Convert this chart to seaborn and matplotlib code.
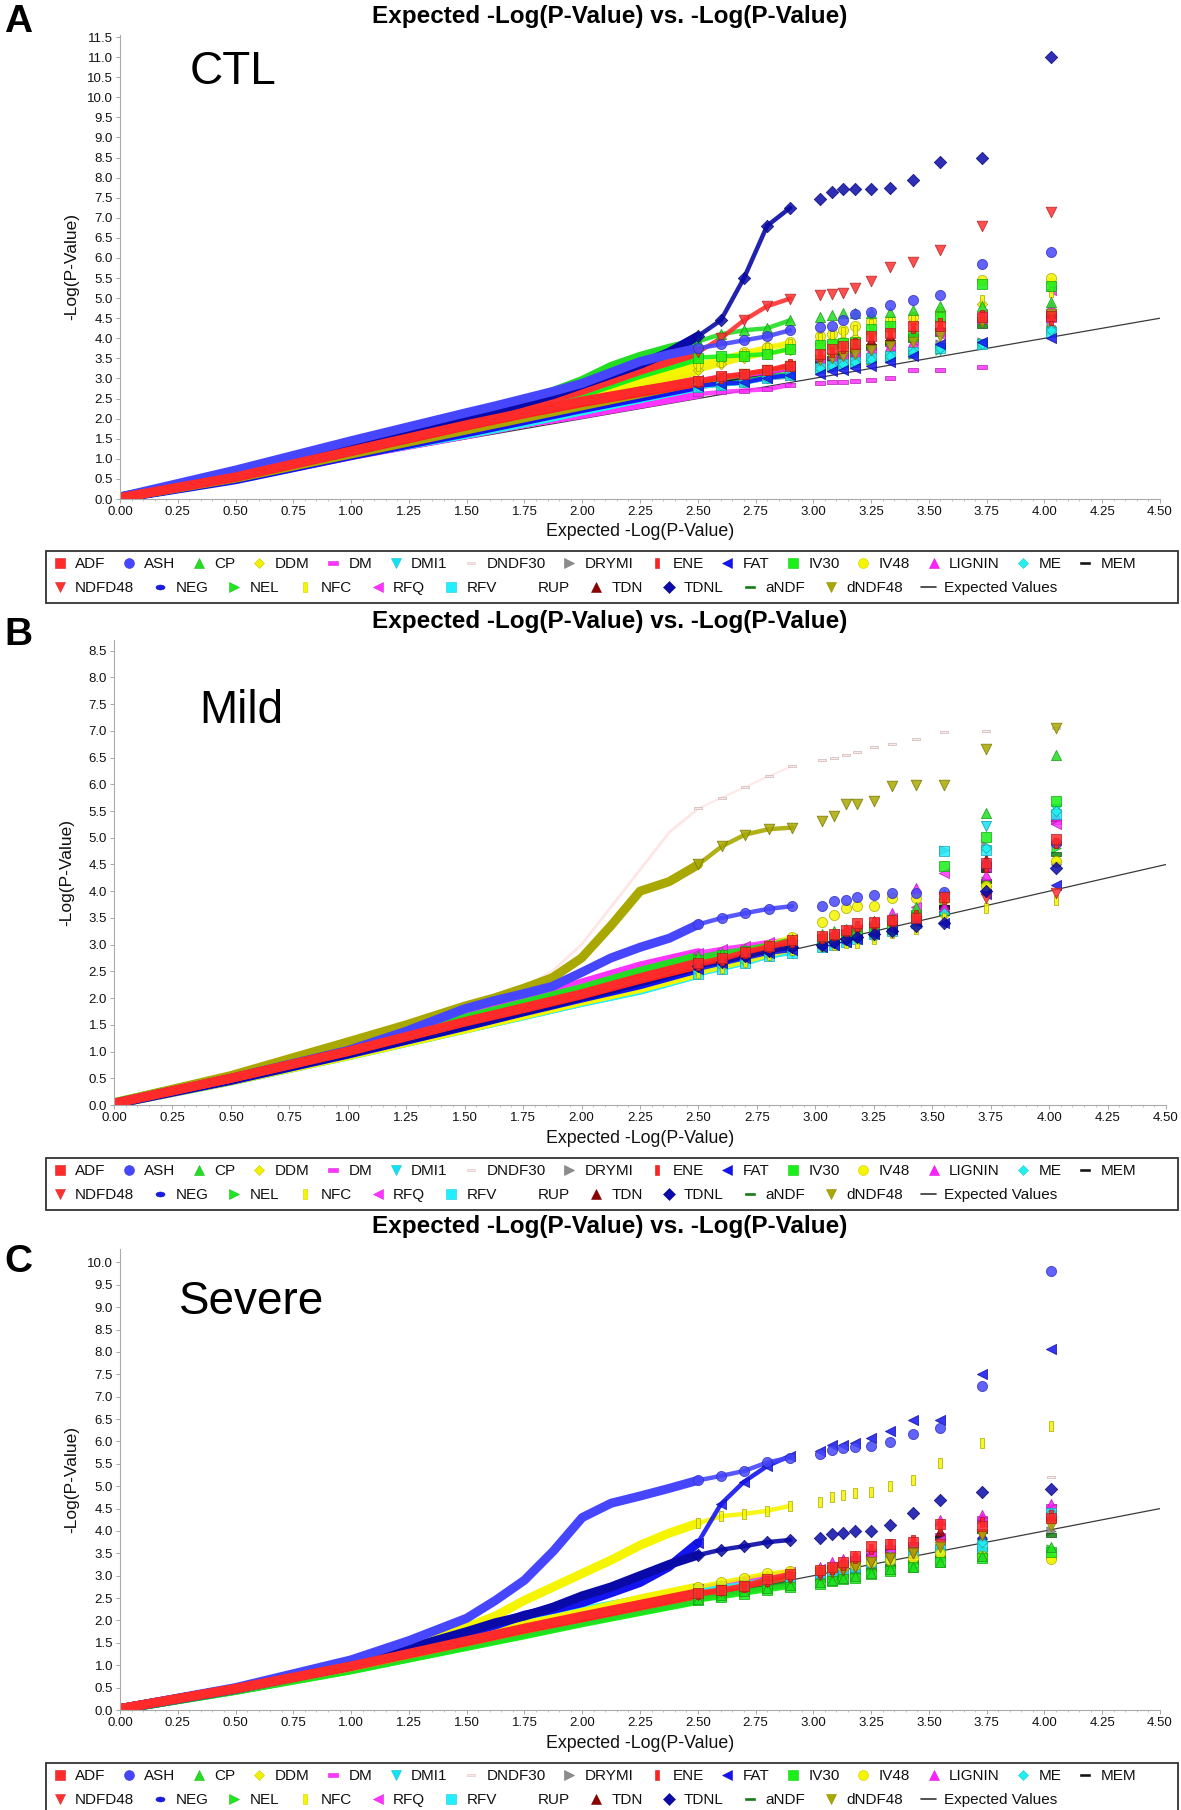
import matplotlib
matplotlib.use("Agg")
import matplotlib.pyplot as plt
import seaborn as sns
from matplotlib.path import Path
from matplotlib.transforms import Affine2D
from matplotlib.lines import Line2D
from matplotlib.patches import Rectangle
from matplotlib.ticker import MultipleLocator, FormatStrFormatter

sns.set_theme(style="white")
plt.rcParams['font.family'] = ['Liberation Sans', 'DejaVu Sans']

# ---------------- data ----------------
TRAITS = ["ADF", "ASH", "CP", "DDM", "DM", "DMI1", "DNDF30", "DRYMI", "ENE", "FAT",
          "IV30", "IV48", "LIGNIN", "ME", "MEM", "NDFD48", "NEG", "NEL", "NFC", "RFQ",
          "RFV", "RUP", "TDN", "TDNL", "aNDF", "dNDF48"]
PANELS = ["CTL", "Mild", "Severe"]
PANEL_LETTERS = ["A", "B", "C"]
TITLE = "Expected -Log(P-Value) vs. -Log(P-Value)"
XLABEL = "Expected -Log(P-Value)"
YLABEL = "-Log(P-Value)"
EXPECTED_X = [0.0, 4.5]
EXPECTED_Y = [0.0, 4.5]
X_TICKS = [0.0, 0.25, 0.5, 0.75, 1.0, 1.25, 1.5, 1.75, 2.0, 2.25, 2.5, 2.75, 3.0, 3.25, 3.5, 3.75, 4.0, 4.25, 4.5]
Y_TOP_TICK = {"CTL": 11.5, "Mild": 8.5, "Severe": 10.0}

# expected -log10(p) positions shared by every trait
XG = [0.0, 0.5, 1.0, 1.5, 1.75, 2.0, 2.25, 2.5,
      2.6, 2.7, 2.8, 2.9,
      3.03, 3.08, 3.13, 3.18,
      3.25, 3.33, 3.43, 3.55,
      3.73, 4.03]
# finer expected positions for the strongly curved bulk of a few traits
FINE_X = [0.0, 0.5, 1.0, 1.25, 1.5, 1.625, 1.75, 1.875, 2.0, 2.125, 2.25, 2.375, 2.5]

# ---- CTL ----
CTL_ADF = [0.03, 0.55, 1.20, 1.85, 2.15, 2.44, 2.69, 2.94, 3.05, 3.12, 3.21, 3.30, 3.61, 3.74, 3.80, 3.85, 4.05, 4.14, 4.31, 4.30, 4.53, 4.55]
CTL_ENE = [0.03, 0.54, 1.18, 1.82, 2.12, 2.40, 2.65, 2.90, 3.02, 3.10, 3.20, 3.35, 3.55, 3.65, 3.75, 3.88, 4.00, 4.10, 4.25, 4.38, 4.58, 4.45]
CTL_ASH = [0.05, 0.72, 1.45, 2.15, 2.50, 2.88, 3.42, 3.75, 3.85, 3.95, 4.05, 4.20, 4.27, 4.31, 4.45, 4.60, 4.65, 4.82, 4.95, 5.08, 5.85, 6.15]
CTL_CP = [0.05, 0.64, 1.35, 2.05, 2.45, 2.95, 3.55, 3.92, 4.10, 4.20, 4.25, 4.45, 4.53, 4.58, 4.62, 4.62, 4.62, 4.65, 4.70, 4.80, 4.80, 4.90]
CTL_DDM = [0.03, 0.50, 1.10, 1.70, 2.00, 2.35, 2.80, 3.20, 3.35, 3.50, 3.62, 3.72, 3.85, 3.90, 3.95, 4.00, 4.10, 4.20, 4.40, 4.45, 4.85, 5.40]
CTL_DM = [0.03, 0.50, 1.08, 1.60, 1.88, 2.11, 2.36, 2.61, 2.66, 2.70, 2.73, 2.84, 2.88, 2.90, 2.91, 2.93, 2.97, 3.00, 3.20, 3.20, 3.28, 4.45]
CTL_DMI1 = [0.03, 0.50, 1.10, 1.62, 1.90, 2.20, 2.50, 2.80, 2.86, 2.92, 3.04, 3.10, 3.28, 3.32, 3.36, 3.40, 3.50, 3.54, 3.65, 3.70, 3.85, 4.15]
CTL_DNDF30 = [0.03, 0.50, 1.12, 1.70, 1.98, 2.28, 2.55, 2.85, 2.90, 2.95, 3.00, 3.10, 3.20, 3.30, 3.35, 3.38, 3.40, 3.45, 3.60, 3.80, 3.95, 4.30]
CTL_DRYMI = [0.03, 0.50, 1.10, 1.62, 1.90, 2.20, 2.48, 2.78, 2.85, 2.90, 3.00, 3.05, 3.20, 3.25, 3.30, 3.35, 3.45, 3.50, 3.60, 3.85, 3.90, 4.30]
CTL_FAT = [0.02, 0.48, 1.08, 1.65, 1.95, 2.25, 2.53, 2.82, 2.87, 2.90, 3.02, 3.08, 3.12, 3.18, 3.22, 3.25, 3.30, 3.40, 3.55, 3.85, 3.90, 4.00]
CTL_IV30 = [0.04, 0.60, 1.27, 1.95, 2.30, 2.62, 3.10, 3.52, 3.55, 3.57, 3.61, 3.74, 3.83, 3.85, 3.88, 3.92, 4.22, 4.30, 4.05, 4.53, 5.35, 5.30]
CTL_IV48 = [0.03, 0.55, 1.15, 1.80, 2.15, 2.50, 2.98, 3.36, 3.50, 3.65, 3.78, 3.90, 4.05, 4.10, 4.20, 4.30, 4.43, 4.46, 4.53, 4.65, 5.45, 5.50]
CTL_LIGNIN = [0.03, 0.52, 1.12, 1.70, 2.00, 2.32, 2.62, 2.92, 3.00, 3.08, 3.15, 3.25, 3.40, 3.45, 3.50, 3.60, 3.70, 3.80, 3.90, 4.20, 4.50, 4.80]
CTL_ME = [0.03, 0.50, 1.10, 1.62, 1.90, 2.20, 2.50, 2.80, 2.85, 2.90, 3.02, 3.08, 3.25, 3.30, 3.35, 3.40, 3.48, 3.55, 3.65, 3.75, 3.85, 4.20]
CTL_MEM = [0.03, 0.52, 1.15, 1.75, 2.05, 2.35, 2.62, 2.88, 2.95, 3.05, 3.15, 3.25, 3.40, 3.50, 3.60, 3.70, 3.80, 3.90, 4.05, 4.20, 4.45, 4.55]
CTL_NDFD48 = [0.04, 0.58, 1.25, 1.95, 2.30, 2.70, 3.20, 3.65, 4.00, 4.45, 4.80, 4.99, 5.08, 5.10, 5.13, 5.25, 5.43, 5.78, 5.90, 6.20, 6.80, 7.15]
CTL_NEG = [0.03, 0.50, 1.10, 1.65, 1.95, 2.25, 2.55, 2.85, 2.90, 2.95, 3.05, 3.10, 3.25, 3.30, 3.35, 3.40, 3.45, 3.50, 3.65, 3.80, 3.90, 4.20]
CTL_NEL = [0.03, 0.52, 1.15, 1.72, 2.02, 2.30, 2.58, 2.85, 2.90, 2.95, 3.05, 3.12, 3.25, 3.30, 3.35, 3.40, 3.45, 3.50, 3.60, 3.70, 3.85, 4.20]
CTL_NFC = [0.03, 0.55, 1.15, 1.80, 2.12, 2.48, 2.95, 3.30, 3.42, 3.60, 3.75, 3.85, 4.00, 4.05, 4.15, 4.20, 4.35, 4.40, 4.50, 4.60, 4.96, 5.15]
CTL_RFQ = [0.03, 0.52, 1.12, 1.72, 2.02, 2.35, 2.66, 2.95, 3.05, 3.10, 3.20, 3.30, 3.45, 3.50, 3.55, 3.60, 3.70, 3.80, 3.95, 4.10, 4.60, 5.20]
CTL_RFV = [0.03, 0.50, 1.10, 1.62, 1.90, 2.20, 2.50, 2.80, 2.85, 2.90, 3.00, 3.08, 3.25, 3.30, 3.35, 3.42, 3.50, 3.55, 3.65, 3.75, 3.85, 4.15]
CTL_TDN = [0.03, 0.55, 1.18, 1.82, 2.12, 2.42, 2.68, 2.92, 3.02, 3.10, 3.20, 3.30, 3.50, 3.60, 3.70, 3.80, 3.95, 4.05, 4.20, 4.30, 4.55, 4.65]
CTL_TDNL = [0.05, 0.62, 1.30, 2.00, 2.40, 2.85, 3.35, 4.05, 4.45, 5.50, 6.80, 7.25, 7.48, 7.63, 7.72, 7.72, 7.72, 7.75, 7.95, 8.40, 8.50, 11.00]
CTL_aNDF = [0.03, 0.55, 1.15, 1.75, 2.05, 2.35, 2.62, 2.90, 2.98, 3.08, 3.18, 3.30, 3.45, 3.50, 3.55, 3.60, 3.75, 3.85, 3.95, 4.10, 4.30, 4.65]
CTL_dNDF48 = [0.03, 0.52, 1.12, 1.72, 2.02, 2.32, 2.62, 2.92, 3.00, 3.10, 3.20, 3.30, 3.45, 3.50, 3.55, 3.60, 3.70, 3.80, 3.90, 4.05, 4.40, 4.60]
CTL_TDNL_FINE = [0.05, 0.62, 1.30, 1.65, 2.00, 2.20, 2.40, 2.60, 2.85, 3.10, 3.35, 3.65, 4.05]
CTL_ASH_FINE = [0.05, 0.72, 1.45, 1.80, 2.15, 2.32, 2.50, 2.68, 2.88, 3.15, 3.42, 3.60, 3.75]
CTL_CP_FINE = [0.05, 0.64, 1.35, 1.70, 2.05, 2.25, 2.45, 2.68, 2.95, 3.30, 3.55, 3.75, 3.92]

# ---- Mild ----
Mild_ADF = [0.03, 0.50, 1.00, 1.56, 1.82, 2.08, 2.38, 2.66, 2.75, 2.87, 2.97, 3.09, 3.16, 3.20, 3.28, 3.41, 3.42, 3.47, 3.50, 3.90, 4.53, 4.97]
Mild_ENE = [0.03, 0.50, 1.00, 1.55, 1.80, 2.06, 2.35, 2.62, 2.72, 2.85, 2.95, 3.05, 3.12, 3.18, 3.25, 3.35, 3.40, 3.45, 3.55, 3.85, 4.45, 4.90]
Mild_ASH = [0.03, 0.50, 1.02, 1.80, 2.08, 2.48, 2.95, 3.38, 3.50, 3.59, 3.67, 3.72, 3.72, 3.81, 3.84, 3.90, 3.92, 3.96, 3.97, 3.99, 4.50, 4.90]
Mild_CP = [0.04, 0.53, 1.07, 1.62, 1.90, 2.18, 2.50, 2.78, 2.85, 2.92, 3.00, 3.10, 3.20, 3.25, 3.30, 3.35, 3.45, 3.50, 3.70, 3.95, 5.47, 6.55]
Mild_DDM = [0.02, 0.46, 0.94, 1.45, 1.72, 1.97, 2.22, 2.50, 2.60, 2.72, 2.85, 2.95, 3.05, 3.10, 3.15, 3.20, 3.30, 3.35, 3.50, 3.55, 4.10, 4.56]
Mild_DM = [0.02, 0.47, 0.97, 1.52, 1.82, 2.14, 2.45, 2.72, 2.78, 2.85, 2.92, 3.00, 3.05, 3.10, 3.15, 3.20, 3.30, 3.35, 3.50, 3.70, 4.20, 5.30]
Mild_DMI1 = [0.02, 0.45, 0.92, 1.42, 1.67, 1.92, 2.15, 2.45, 2.55, 2.65, 2.78, 2.85, 2.95, 3.00, 3.05, 3.10, 3.20, 3.30, 3.45, 3.60, 5.22, 5.53]
Mild_DNDF30 = [0.04, 0.55, 1.18, 1.85, 2.20, 2.70, 4.30, 5.55, 5.75, 5.95, 6.15, 6.34, 6.45, 6.50, 6.55, 6.60, 6.70, 6.75, 6.85, 6.97, 7.00, 7.05]
Mild_DRYMI = [0.02, 0.47, 0.97, 1.50, 1.77, 2.04, 2.32, 2.60, 2.70, 2.80, 2.90, 3.00, 3.10, 3.15, 3.20, 3.25, 3.35, 3.40, 3.50, 4.78, 4.85, 5.35]
Mild_FAT = [0.02, 0.46, 0.95, 1.47, 1.74, 2.00, 2.25, 2.55, 2.65, 2.75, 2.85, 2.90, 2.95, 3.00, 3.05, 3.10, 3.20, 3.30, 3.45, 3.40, 3.94, 4.11]
Mild_IV30 = [0.04, 0.52, 1.05, 1.60, 1.87, 2.14, 2.45, 2.72, 2.80, 2.88, 2.95, 3.00, 3.10, 3.12, 3.15, 3.20, 3.25, 3.30, 3.55, 4.47, 5.02, 5.69]
Mild_IV48 = [0.02, 0.46, 0.95, 1.47, 1.74, 2.00, 2.30, 2.62, 2.75, 2.88, 3.00, 3.15, 3.42, 3.55, 3.69, 3.72, 3.72, 3.88, 3.88, 3.85, 4.09, 4.56]
Mild_LIGNIN = [0.03, 0.51, 1.03, 1.62, 1.92, 2.24, 2.55, 2.80, 2.85, 2.92, 3.00, 3.05, 3.10, 3.15, 3.20, 3.30, 3.45, 3.60, 4.06, 3.72, 4.30, 5.40]
Mild_ME = [0.02, 0.46, 0.94, 1.44, 1.70, 1.95, 2.20, 2.50, 2.60, 2.70, 2.80, 2.88, 2.95, 3.00, 3.05, 3.10, 3.15, 3.25, 3.40, 3.60, 4.80, 5.50]
Mild_MEM = [0.03, 0.49, 0.99, 1.53, 1.80, 2.06, 2.35, 2.62, 2.70, 2.80, 2.90, 3.00, 3.08, 3.12, 3.18, 3.25, 3.30, 3.38, 3.45, 3.70, 4.40, 4.90]
Mild_NDFD48 = [0.03, 0.49, 0.99, 1.53, 1.80, 2.06, 2.35, 2.62, 2.70, 2.80, 2.90, 3.00, 3.08, 3.12, 3.18, 3.25, 3.30, 3.35, 3.45, 3.90, 3.88, 3.97]
Mild_NEG = [0.02, 0.46, 0.95, 1.47, 1.74, 2.00, 2.28, 2.58, 2.68, 2.78, 2.88, 2.95, 3.02, 3.08, 3.12, 3.18, 3.25, 3.30, 3.45, 3.60, 4.00, 4.50]
Mild_NEL = [0.03, 0.52, 1.05, 1.60, 1.87, 2.14, 2.42, 2.70, 2.78, 2.86, 2.95, 3.02, 3.08, 3.12, 3.18, 3.22, 3.28, 3.35, 3.50, 3.80, 4.20, 4.80]
Mild_NFC = [0.02, 0.45, 0.92, 1.42, 1.68, 1.94, 2.18, 2.47, 2.57, 2.68, 2.80, 2.90, 2.98, 3.00, 3.03, 3.03, 3.10, 3.22, 3.30, 3.50, 3.69, 3.84]
Mild_RFQ = [0.03, 0.52, 1.06, 1.65, 1.95, 2.28, 2.60, 2.85, 2.92, 2.98, 3.05, 3.10, 3.15, 3.20, 3.25, 3.30, 3.40, 3.50, 3.70, 4.34, 4.45, 5.25]
Mild_RFV = [0.02, 0.45, 0.92, 1.42, 1.67, 1.92, 2.15, 2.45, 2.55, 2.65, 2.78, 2.85, 2.95, 3.00, 3.05, 3.10, 3.20, 3.25, 3.40, 4.75, 4.78, 5.45]
Mild_TDN = [0.03, 0.50, 1.00, 1.55, 1.82, 2.08, 2.37, 2.64, 2.72, 2.82, 2.92, 3.02, 3.10, 3.15, 3.20, 3.28, 3.35, 3.40, 3.50, 3.70, 4.60, 5.40]
Mild_TDNL = [0.02, 0.47, 0.96, 1.48, 1.75, 2.02, 2.30, 2.60, 2.68, 2.78, 2.88, 2.95, 3.00, 3.05, 3.10, 3.15, 3.20, 3.25, 3.35, 3.41, 4.00, 4.44]
Mild_aNDF = [0.03, 0.49, 0.99, 1.53, 1.80, 2.07, 2.35, 2.62, 2.70, 2.80, 2.90, 2.98, 3.05, 3.10, 3.15, 3.20, 3.28, 3.32, 3.40, 3.60, 4.20, 4.70]
Mild_dNDF48 = [0.04, 0.55, 1.18, 1.85, 2.18, 2.75, 4.00, 4.50, 4.84, 5.06, 5.16, 5.19, 5.31, 5.41, 5.63, 5.63, 5.69, 5.97, 5.99, 5.99, 6.66, 7.06]
Mild_dNDF48_FINE = [0.04, 0.55, 1.18, 1.50, 1.85, 2.00, 2.18, 2.38, 2.75, 3.35, 4.00, 4.18, 4.50]
Mild_ASH_FINE = [0.03, 0.50, 1.02, 1.38, 1.80, 1.95, 2.08, 2.22, 2.48, 2.75, 2.95, 3.12, 3.38]
Mild_DNDF30_FINE = [0.04, 0.55, 1.18, 1.50, 1.85, 2.00, 2.20, 2.50, 3.00, 3.70, 4.40, 5.10, 5.55]

# ---- Severe ----
Severe_ADF = [0.03, 0.48, 0.98, 1.55, 1.83, 2.10, 2.36, 2.62, 2.69, 2.78, 2.93, 3.04, 3.12, 3.20, 3.30, 3.45, 3.67, 3.71, 3.75, 4.15, 4.12, 4.28]
Severe_ENE = [0.03, 0.48, 0.98, 1.53, 1.81, 2.07, 2.33, 2.60, 2.67, 2.75, 2.88, 3.00, 3.08, 3.15, 3.25, 3.40, 3.60, 3.70, 3.80, 4.10, 4.20, 4.35]
Severe_ASH = [0.03, 0.50, 1.12, 2.05, 2.90, 4.30, 4.78, 5.13, 5.23, 5.34, 5.53, 5.64, 5.73, 5.80, 5.85, 5.88, 5.90, 5.99, 6.17, 6.29, 7.25, 9.81]
Severe_CP = [0.03, 0.45, 0.92, 1.45, 1.72, 1.98, 2.24, 2.48, 2.56, 2.65, 2.72, 2.80, 2.85, 2.90, 2.95, 3.00, 3.05, 3.15, 3.20, 3.30, 3.45, 3.65]
Severe_DDM = [0.03, 0.48, 0.98, 1.55, 1.85, 2.12, 2.40, 2.68, 2.75, 2.85, 2.95, 3.05, 3.10, 3.15, 3.20, 3.25, 3.30, 3.35, 3.45, 3.55, 3.50, 3.40]
Severe_DM = [0.03, 0.48, 0.98, 1.55, 1.88, 2.15, 2.42, 2.72, 2.80, 2.90, 3.00, 3.08, 3.15, 3.20, 3.28, 3.40, 3.55, 3.65, 3.70, 3.90, 4.30, 4.55]
Severe_DMI1 = [0.03, 0.48, 1.00, 1.62, 1.92, 2.20, 2.46, 2.70, 2.78, 2.86, 2.95, 3.02, 3.08, 3.12, 3.18, 3.25, 3.35, 3.45, 3.60, 3.50, 3.70, 4.41]
Severe_DNDF30 = [0.03, 0.50, 1.00, 1.60, 1.95, 2.25, 2.50, 2.70, 2.78, 2.85, 2.95, 3.02, 3.10, 3.15, 3.20, 3.28, 3.35, 3.45, 3.55, 3.70, 4.00, 5.20]
Severe_DRYMI = [0.03, 0.47, 0.96, 1.55, 1.85, 2.12, 2.40, 2.65, 2.72, 2.80, 2.90, 2.98, 3.05, 3.10, 3.15, 3.20, 3.30, 3.40, 3.50, 3.60, 3.75, 4.00]
Severe_FAT = [0.02, 0.46, 0.98, 1.72, 2.12, 2.40, 2.85, 3.73, 4.60, 5.10, 5.45, 5.68, 5.79, 5.92, 5.93, 5.97, 6.07, 6.23, 6.48, 6.48, 7.51, 8.07]
Severe_IV30 = [0.02, 0.44, 0.90, 1.42, 1.68, 1.95, 2.20, 2.45, 2.52, 2.60, 2.68, 2.75, 2.82, 2.88, 2.92, 2.95, 3.04, 3.10, 3.20, 3.30, 3.40, 3.52]
Severe_IV48 = [0.03, 0.48, 0.98, 1.58, 1.90, 2.18, 2.48, 2.75, 2.85, 2.95, 3.05, 3.10, 3.12, 3.15, 3.20, 3.25, 3.30, 3.35, 3.40, 3.50, 3.45, 3.38]
Severe_LIGNIN = [0.03, 0.48, 0.98, 1.57, 1.88, 2.15, 2.42, 2.72, 2.80, 2.90, 3.00, 3.10, 3.20, 3.30, 3.38, 3.45, 3.55, 3.65, 3.75, 4.25, 4.35, 4.60]
Severe_ME = [0.03, 0.48, 1.00, 1.64, 1.96, 2.22, 2.46, 2.68, 2.75, 2.82, 2.92, 3.00, 3.06, 3.10, 3.15, 3.20, 3.30, 3.45, 3.60, 3.55, 3.75, 4.40]
Severe_MEM = [0.03, 0.47, 0.97, 1.54, 1.82, 2.09, 2.35, 2.60, 2.68, 2.78, 2.90, 3.00, 3.08, 3.12, 3.20, 3.30, 3.45, 3.55, 3.65, 3.85, 4.00, 4.30]
Severe_NDFD48 = [0.03, 0.47, 0.97, 1.52, 1.80, 2.06, 2.32, 2.58, 2.65, 2.75, 2.85, 2.95, 3.02, 3.08, 3.12, 3.20, 3.30, 3.40, 3.50, 3.70, 3.90, 4.20]
Severe_NEG = [0.02, 0.45, 0.95, 1.58, 1.88, 2.14, 2.40, 2.62, 2.70, 2.78, 2.88, 2.95, 3.00, 3.05, 3.10, 3.15, 3.25, 3.35, 3.45, 3.60, 3.85, 4.30]
Severe_NEL = [0.02, 0.44, 0.90, 1.43, 1.70, 1.97, 2.22, 2.46, 2.53, 2.62, 2.70, 2.78, 2.85, 2.90, 2.95, 3.00, 3.05, 3.12, 3.20, 3.35, 3.50, 3.60]
Severe_NFC = [0.03, 0.48, 1.00, 1.85, 2.45, 3.05, 3.68, 4.17, 4.33, 4.38, 4.45, 4.56, 4.64, 4.76, 4.81, 4.84, 4.88, 5.00, 5.13, 5.51, 5.96, 6.34]
Severe_RFQ = [0.03, 0.48, 0.98, 1.56, 1.86, 2.14, 2.42, 2.70, 2.78, 2.88, 2.98, 3.08, 3.15, 3.20, 3.25, 3.35, 3.45, 3.55, 3.65, 3.80, 4.20, 4.50]
Severe_RFV = [0.03, 0.48, 1.00, 1.63, 1.95, 2.21, 2.46, 2.66, 2.73, 2.80, 2.90, 2.98, 3.05, 3.10, 3.15, 3.20, 3.30, 3.40, 3.55, 3.60, 3.65, 4.40]
Severe_TDN = [0.03, 0.48, 0.97, 1.53, 1.82, 2.10, 2.35, 2.62, 2.70, 2.80, 2.92, 3.02, 3.10, 3.15, 3.22, 3.35, 3.50, 3.60, 3.70, 4.00, 4.30, 4.45]
Severe_TDNL = [0.03, 0.48, 0.98, 1.75, 2.10, 2.55, 3.00, 3.46, 3.58, 3.66, 3.75, 3.80, 3.84, 3.93, 3.95, 4.00, 4.00, 4.13, 4.41, 4.70, 4.88, 4.93]
Severe_aNDF = [0.02, 0.45, 0.92, 1.46, 1.74, 2.00, 2.25, 2.50, 2.58, 2.68, 2.78, 2.85, 2.92, 2.98, 3.02, 3.08, 3.15, 3.22, 3.30, 3.45, 3.60, 3.90]
Severe_dNDF48 = [0.03, 0.47, 0.96, 1.52, 1.80, 2.08, 2.33, 2.60, 2.68, 2.78, 2.88, 2.98, 3.05, 3.10, 3.15, 3.20, 3.30, 3.40, 3.50, 3.65, 3.90, 4.10]
Severe_ASH_FINE = [0.03, 0.50, 1.12, 1.55, 2.05, 2.45, 2.90, 3.55, 4.30, 4.62, 4.78, 4.95, 5.13]
Severe_NFC_FINE = [0.03, 0.48, 1.00, 1.45, 1.85, 2.10, 2.45, 2.75, 3.05, 3.35, 3.68, 3.95, 4.17]
Severe_TDNL_FINE = [0.03, 0.48, 0.98, 1.38, 1.75, 1.95, 2.10, 2.30, 2.55, 2.75, 3.00, 3.25, 3.46]
Severe_FAT_FINE = [0.02, 0.46, 0.98, 1.38, 1.72, 1.90, 2.12, 2.25, 2.40, 2.62, 2.85, 3.20, 3.73]

# ---------------- styling ----------------
W, H = 1181, 1810
_codes = [Path.MOVETO, Path.LINETO, Path.LINETO, Path.LINETO, Path.CLOSEPOLY]
WIDE = Path([(-1, -0.33), (1, -0.33), (1, 0.33), (-1, 0.33), (-1, -0.33)], _codes)
TALL = Path([(-0.38, -1), (0.38, -1), (0.38, 1), (-0.38, 1), (-0.38, -1)], _codes)
ELL = Path.unit_circle().transformed(Affine2D().scale(1.0, 0.55))

STYLE = {
    "ADF": ("#ff2a2a", "s", 1.0), "ASH": ("#4646ff", "o", 1.1), "CP": ("#22dd22", "^", 1.1),
    "DDM": ("#f0f000", "D", 0.8), "DM": ("#ff33ff", WIDE, 1.1), "DMI1": ("#12e2f2", "v", 1.1),
    "DNDF30": ("#ffe6e6", WIDE, 0.8), "DRYMI": ("#8c8c8c", ">", 1.0), "ENE": ("#ff2020", TALL, 1.1),
    "FAT": ("#1414f0", "<", 1.1), "IV30": ("#18f018", "s", 1.0), "IV48": ("#f5f500", "o", 1.1),
    "LIGNIN": ("#ff20ff", "^", 1.1), "ME": ("#22f0f0", "D", 0.8), "MEM": ("#111111", WIDE, 1.0),
    "NDFD48": ("#ff3030", "v", 1.15), "NEG": ("#1a1ae6", ELL, 1.0), "NEL": ("#22e622", ">", 1.0),
    "NFC": ("#f5f500", TALL, 1.1), "RFQ": ("#ff33ff", "<", 1.1), "RFV": ("#22eeff", "s", 1.0),
    "RUP": ("#ffffff", "None", 1.0), "TDN": ("#8b0000", "^", 1.0), "TDNL": ("#0a0aa8", "D", 0.95),
    "aNDF": ("#0f7f0f", WIDE, 1.0), "dNDF48": ("#a8a800", "v", 1.15),
}
DRAW_ORDER = ["DNDF30", "DRYMI", "DM", "DMI1", "DDM", "NEG", "NEL", "MEM", "TDN", "aNDF",
              "LIGNIN", "RFQ", "RFV", "ME", "IV48", "NFC", "IV30", "CP", "FAT", "NDFD48",
              "dNDF48", "TDNL", "ASH", "ENE", "ADF"]


def darker(hexc, f=0.7):
    r, g, b = [int(hexc[i:i + 2], 16) for i in (1, 3, 5)]
    return "#%02x%02x%02x" % (int(r * f), int(g * f), int(b * f))


# axes geometry in pixels: (left, right, y0_px, ytop_px, ylim_top)
GEOM = {
    "CTL": (120, 1160, 499, 35, 11.55),
    "Mild": (114, 1166, 1105, 640, 8.7),
    "Severe": (120, 1160, 1710, 1249, 10.3),
}
TITLE_Y = {"CTL": 16, "Mild": 621, "Severe": 1226}
LETTER_Y = {"CTL": 4, "Mild": 617, "Severe": 1244}
LABEL_POS = {"CTL": (190, 72), "Mild": (199, 711), "Severe": (179, 1302)}
XLABEL_Y = {"CTL": 531, "Mild": 1138, "Severe": 1743}
YLABEL_X = {"CTL": 72, "Mild": 67, "Severe": 72}
LEG_TOP = {"CTL": 551, "Mild": 1158, "Severe": 1763}

fig = plt.figure(figsize=(W / 100, H / 100), dpi=100)
fig.patch.set_facecolor("white")

for panel, letter in zip(PANELS, PANEL_LETTERS):
    left, right, y0, ytop, ylt = GEOM[panel]
    ax = fig.add_axes([left / W, 1 - y0 / H, (right - left) / W, (y0 - ytop) / H])
    ax.set_facecolor("white")
    data = {t: globals()[f"{panel}_{t}"] for t in TRAITS if t != "RUP"}
    fine = {t: globals()[f"{panel}_{t}_FINE"] for t in TRAITS
            if f"{panel}_{t}_FINE" in globals()}

    # expected values line
    sns.lineplot(x=EXPECTED_X, y=EXPECTED_Y, ax=ax, color="#3a3a3a", linewidth=0.9,
                 estimator=None, sort=False, zorder=1.5)
    # dense bulk of each trait as a thick band
    for t in DRAW_ORDER:
        c, m, sc = STYLE[t]
        lw = 2.0 if t == "DNDF30" else 6.5
        if t in fine:
            bx, by = FINE_X, fine[t]
        else:
            bx, by = XG[:8], data[t][:8]
        sns.lineplot(x=bx, y=by, ax=ax, color=c, linewidth=lw,
                     estimator=None, sort=False, zorder=2, solid_capstyle="round")
        sns.lineplot(x=XG[7:12], y=data[t][7:12], ax=ax, color=c,
                     linewidth=1.5 if t == "DNDF30" else 3.2, alpha=0.9,
                     estimator=None, sort=False, zorder=2, solid_capstyle="round")
    # tail points as markers
    for t in DRAW_ORDER:
        c, m, sc = STYLE[t]
        sns.scatterplot(x=XG[7:], y=data[t][7:], ax=ax, marker=m, s=44 * sc * sc,
                        color=c, edgecolor=darker(c, 0.8 if t == "DNDF30" else 0.7),
                        linewidth=0.6, alpha=0.85, legend=False, zorder=3)

    ax.set_xlim(0, 4.5)
    ax.set_ylim(0, ylt)
    ax.set_xticks(X_TICKS)
    ax.xaxis.set_major_formatter(FormatStrFormatter("%.2f"))
    ax.xaxis.set_minor_locator(MultipleLocator(0.05))
    ax.set_yticks([v * 0.5 for v in range(int(Y_TOP_TICK[panel] * 2) + 1)])
    ax.yaxis.set_major_formatter(FormatStrFormatter("%.1f"))
    ax.tick_params(axis="both", which="major", labelsize=9.5, length=3, width=0.6,
                   color="#999999", pad=2, direction="out", labelcolor="#111111")
    ax.tick_params(axis="x", which="minor", length=1.5, width=0.5, color="#aaaaaa")
    ax.tick_params(bottom=True, left=True, which="both")
    for s in ["top", "right"]:
        ax.spines[s].set_visible(False)
    for s in ["left", "bottom"]:
        ax.spines[s].set_color("#aaaaaa")
        ax.spines[s].set_linewidth(0.8)
    ax.set_xlabel("")
    ax.set_ylabel("")
    ax.grid(False)

    # texts
    fig.text(4 / W, 1 - LETTER_Y[panel] / H, letter, fontsize=28, fontweight="bold",
             ha="left", va="top", color="black")
    fig.text(610 / W, 1 - TITLE_Y[panel] / H, TITLE, fontsize=17.5, fontweight="bold",
             ha="center", va="center", color="black")
    lx, ly = LABEL_POS[panel]
    fig.text(lx / W, 1 - ly / H, panel, fontsize=33, ha="left", va="center", color="black")
    fig.text(((left + right) / 2) / W, 1 - XLABEL_Y[panel] / H, XLABEL, fontsize=12.8,
             ha="center", va="center", color="#111111")
    fig.text(YLABEL_X[panel] / W, 1 - ((y0 + ytop) / 2) / H, YLABEL, fontsize=12.5,
             rotation=90, ha="center", va="center", color="#111111")

    # legend: frame + two rows
    top = LEG_TOP[panel]
    fig.add_artist(Rectangle((46 / W, 1 - (top + 52) / H), (1178 - 46) / W, 52 / H,
                             transform=fig.transFigure, fill=False, edgecolor="#333333",
                             linewidth=1.3))
    handles = []
    for t in TRAITS:
        c, m, sc = STYLE[t]
        handles.append(Line2D([], [], linestyle="none", marker=m, color=c,
                              markeredgecolor=darker(c, 0.85), markeredgewidth=0.4,
                              markersize=6.5 * sc))
    handles.append(Line2D([], [], color="#333333", linewidth=1.2))
    labels = TRAITS + ["Expected Values"]
    rows = [(handles[:15], labels[:15], top + 6, 1.05), (handles[15:], labels[15:], top + 30, 1.2)]
    for hh, ll, ytp, csp in rows:
        fig.legend(handles=hh, labels=ll, loc="upper left",
                   bbox_to_anchor=(52 / W, 1 - ytp / H), ncol=len(hh), frameon=False,
                   fontsize=11, handlelength=1.0, handletextpad=0.5, columnspacing=csp,
                   borderpad=0, borderaxespad=0, labelcolor="#111111")

fig.savefig("out.png", dpi=100, facecolor="white")
